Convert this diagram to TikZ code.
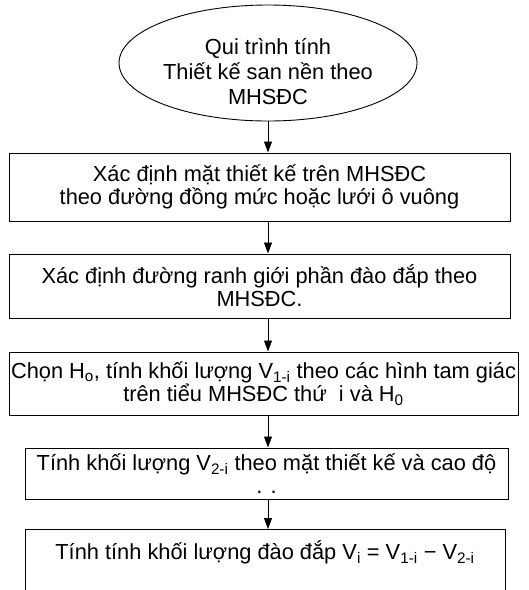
\documentclass[tikz,border=0pt]{standalone}
\usepackage{fontspec}
\setmainfont{Liberation Sans}
\usetikzlibrary{shapes.geometric,arrows.meta}

\tikzset{
  stepbox/.style={draw, line width=1pt, align=center, inner sep=0pt},
  flow/.style={line width=0.9pt, -{Triangle[length=11pt,width=8pt]}},
}

\begin{document}
\begin{tikzpicture}[x=1pt,y=-1pt,font=\fontsize{21.8}{23}\selectfont]
		\clip (0,0) rectangle (529,590);
		\node[draw, ellipse, line width=0.9pt, minimum width=298pt, minimum height=116pt, inner sep=0pt] (start) at (268,63) {};
		\node[align=center, font=\fontsize{21.8}{25}\selectfont] (starttext) at (268,72) {Qui trình tính\\Thiết kế san nền theo\\MHSĐC};
		\node[stepbox, minimum width=501pt, minimum height=68pt] (box1) at (259.5,187) {Xác định mặt thiết kế trên MHSĐC\\theo đường đồng mức hoặc lưới ô vuông};
		\node[stepbox, minimum width=501pt, minimum height=64pt] (box2) at (259.5,286) {Xác định đường ranh giới phần đào đắp theo\\MHSĐC.};
		\node[stepbox, minimum width=509pt, minimum height=63pt] (box3) at (263.5,383.5) {Chọn H\textsubscript{o}, tính khối lượng V\textsubscript{1-i} theo các hình tam giác\\trên tiểu MHSĐC thứ\ \ i và H\textsubscript{0}};
		\node[stepbox, minimum width=483pt, minimum height=51pt] (box4) at (266.5,473.5) {Tính khối lượng V\textsubscript{2-i} theo mặt thiết kế và cao độ\\. .};
		\node[stepbox, minimum width=480pt, anchor=north, text height=30pt, text depth=60pt] (box5) at (265,529) {Tính tính khối lượng đào đắp V\textsubscript{i} = V\textsubscript{1-i} − V\textsubscript{2-i}};
%		arrows down the chain
		\draw[flow] (start.south) -- (start.south |- box1.north);
		\draw[flow] (box1.south -| start) -- (box2.north -| start);
		\draw[flow] (box2.south -| start) -- (box3.north -| start);
		\draw[flow] (box3.south -| start) -- (box4.north -| start);
		\draw[flow] (box4.south -| start) -- (box5.north -| start);
\end{tikzpicture}
\end{document}
